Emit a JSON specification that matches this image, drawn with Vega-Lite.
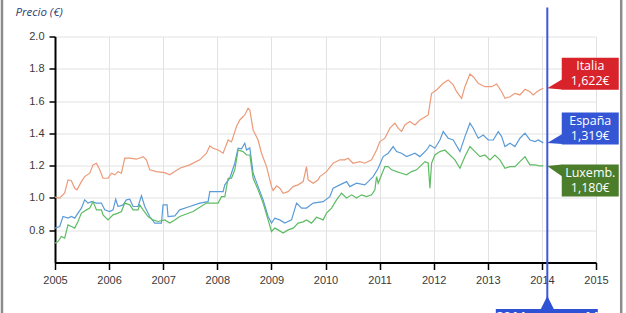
{
  "$schema": "https://vega.github.io/schema/vega-lite/v6.json",
  "width": 541,
  "height": 226,
  "autosize": "none",
  "padding": {"left": 55, "top": 36.5, "right": 30, "bottom": 50.5},
  "background": "white",
  "config": {
    "view": {"stroke": null},
    "axis": {
      "labelFont": "Liberation Sans",
      "labelFontSize": 11,
      "labelColor": "#3a3a3a",
      "labelOverlap": false,
      "labelFlush": false,
      "gridColor": "#e2e2e2",
      "gridWidth": 1,
      "domainColor": "#000000",
      "domainWidth": 2,
      "tickColor": "#000000",
      "tickWidth": 1.5,
      "tickSize": 6,
      "labelPadding": 5
    }
  },
  "resolve": {"axis": {"x": "independent", "y": "independent"}},
  "datasets": {
    "etiquetas": [
      {"serie": "Italia", "texto": "Italia\n1,622€"},
      {"serie": "España", "texto": "España\n1,319€"},
      {"serie": "Luxemb.", "texto": "Luxemb.\n1,180€"}
    ],
    "marca": [{"t": 2014.1, "texto": "2014 semana 14"}],
    "precios": [
      {"serie":"Italia","t":2005.000,"v":1.005},{"serie":"Italia","t":2005.087,"v":0.999},{"serie":"Italia","t":2005.179,"v":1.031},{"serie":"Italia","t":2005.240,"v":1.112},{"serie":"Italia","t":2005.303,"v":1.107},{"serie":"Italia","t":2005.364,"v":1.060},{"serie":"Italia","t":2005.407,"v":1.050},{"serie":"Italia","t":2005.488,"v":1.101},{"serie":"Italia","t":2005.549,"v":1.132},{"serie":"Italia","t":2005.642,"v":1.153},{"serie":"Italia","t":2005.703,"v":1.205},{"serie":"Italia","t":2005.766,"v":1.215},{"serie":"Italia","t":2005.827,"v":1.174},{"serie":"Italia","t":2005.888,"v":1.122},{"serie":"Italia","t":2005.980,"v":1.122},{"serie":"Italia","t":2006.043,"v":1.153},{"serie":"Italia","t":2006.104,"v":1.143},{"serie":"Italia","t":2006.165,"v":1.163},{"serie":"Italia","t":2006.228,"v":1.153},{"serie":"Italia","t":2006.289,"v":1.246},{"serie":"Italia","t":2006.382,"v":1.246},{"serie":"Italia","t":2006.505,"v":1.240},{"serie":"Italia","t":2006.628,"v":1.256},{"serie":"Italia","t":2006.690,"v":1.236},{"serie":"Italia","t":2006.751,"v":1.174},{"serie":"Italia","t":2006.875,"v":1.163},{"serie":"Italia","t":2007.028,"v":1.157},{"serie":"Italia","t":2007.121,"v":1.143},{"serie":"Italia","t":2007.214,"v":1.163},{"serie":"Italia","t":2007.306,"v":1.184},{"serie":"Italia","t":2007.491,"v":1.205},{"serie":"Italia","t":2007.676,"v":1.236},{"serie":"Italia","t":2007.800,"v":1.277},{"serie":"Italia","t":2007.861,"v":1.322},{"serie":"Italia","t":2007.922,"v":1.308},{"serie":"Italia","t":2008.015,"v":1.297},{"serie":"Italia","t":2008.107,"v":1.277},{"serie":"Italia","t":2008.200,"v":1.359},{"serie":"Italia","t":2008.262,"v":1.347},{"serie":"Italia","t":2008.355,"v":1.442},{"serie":"Italia","t":2008.416,"v":1.483},{"serie":"Italia","t":2008.508,"v":1.514},{"serie":"Italia","t":2008.569,"v":1.555},{"serie":"Italia","t":2008.601,"v":1.545},{"serie":"Italia","t":2008.662,"v":1.421},{"serie":"Italia","t":2008.754,"v":1.359},{"serie":"Italia","t":2008.817,"v":1.277},{"serie":"Italia","t":2008.910,"v":1.194},{"serie":"Italia","t":2009.002,"v":1.070},{"serie":"Italia","t":2009.032,"v":1.046},{"serie":"Italia","t":2009.095,"v":1.075},{"serie":"Italia","t":2009.156,"v":1.060},{"serie":"Italia","t":2009.217,"v":1.029},{"serie":"Italia","t":2009.309,"v":1.039},{"serie":"Italia","t":2009.402,"v":1.070},{"serie":"Italia","t":2009.494,"v":1.081},{"serie":"Italia","t":2009.587,"v":1.101},{"serie":"Italia","t":2009.649,"v":1.194},{"serie":"Italia","t":2009.679,"v":1.112},{"serie":"Italia","t":2009.772,"v":1.091},{"serie":"Italia","t":2009.864,"v":1.112},{"serie":"Italia","t":2009.895,"v":1.132},{"serie":"Italia","t":2010.019,"v":1.163},{"serie":"Italia","t":2010.141,"v":1.215},{"serie":"Italia","t":2010.265,"v":1.236},{"serie":"Italia","t":2010.358,"v":1.236},{"serie":"Italia","t":2010.419,"v":1.246},{"serie":"Italia","t":2010.511,"v":1.215},{"serie":"Italia","t":2010.635,"v":1.225},{"serie":"Italia","t":2010.727,"v":1.215},{"serie":"Italia","t":2010.852,"v":1.236},{"serie":"Italia","t":2010.944,"v":1.297},{"serie":"Italia","t":2011.005,"v":1.349},{"serie":"Italia","t":2011.098,"v":1.370},{"serie":"Italia","t":2011.190,"v":1.432},{"serie":"Italia","t":2011.283,"v":1.463},{"serie":"Italia","t":2011.344,"v":1.432},{"serie":"Italia","t":2011.406,"v":1.411},{"serie":"Italia","t":2011.467,"v":1.452},{"serie":"Italia","t":2011.560,"v":1.473},{"serie":"Italia","t":2011.653,"v":1.452},{"serie":"Italia","t":2011.745,"v":1.483},{"serie":"Italia","t":2011.837,"v":1.502},{"serie":"Italia","t":2011.898,"v":1.514},{"serie":"Italia","t":2011.961,"v":1.648},{"serie":"Italia","t":2012.053,"v":1.669},{"serie":"Italia","t":2012.176,"v":1.710},{"serie":"Italia","t":2012.268,"v":1.731},{"serie":"Italia","t":2012.361,"v":1.700},{"serie":"Italia","t":2012.424,"v":1.658},{"serie":"Italia","t":2012.516,"v":1.617},{"serie":"Italia","t":2012.577,"v":1.689},{"serie":"Italia","t":2012.670,"v":1.768},{"serie":"Italia","t":2012.731,"v":1.751},{"serie":"Italia","t":2012.823,"v":1.710},{"serie":"Italia","t":2012.947,"v":1.689},{"serie":"Italia","t":2013.071,"v":1.689},{"serie":"Italia","t":2013.163,"v":1.706},{"serie":"Italia","t":2013.256,"v":1.658},{"serie":"Italia","t":2013.317,"v":1.617},{"serie":"Italia","t":2013.410,"v":1.627},{"serie":"Italia","t":2013.502,"v":1.648},{"serie":"Italia","t":2013.594,"v":1.638},{"serie":"Italia","t":2013.687,"v":1.673},{"serie":"Italia","t":2013.779,"v":1.658},{"serie":"Italia","t":2013.840,"v":1.638},{"serie":"Italia","t":2013.933,"v":1.664},{"serie":"Italia","t":2014.025,"v":1.679},
      {"serie":"España","t":2005.000,"v":0.813},{"serie":"España","t":2005.087,"v":0.823},{"serie":"España","t":2005.148,"v":0.885},{"serie":"España","t":2005.240,"v":0.875},{"serie":"España","t":2005.303,"v":0.885},{"serie":"España","t":2005.364,"v":0.875},{"serie":"España","t":2005.425,"v":0.906},{"serie":"España","t":2005.488,"v":0.937},{"serie":"España","t":2005.549,"v":0.988},{"serie":"España","t":2005.610,"v":0.968},{"serie":"España","t":2005.673,"v":0.977},{"serie":"España","t":2005.766,"v":0.968},{"serie":"España","t":2005.858,"v":0.968},{"serie":"España","t":2005.919,"v":0.926},{"serie":"España","t":2006.012,"v":0.916},{"serie":"España","t":2006.073,"v":0.926},{"serie":"España","t":2006.123,"v":0.992},{"serie":"España","t":2006.165,"v":0.947},{"serie":"España","t":2006.258,"v":0.957},{"serie":"España","t":2006.320,"v":0.988},{"serie":"España","t":2006.382,"v":0.992},{"serie":"España","t":2006.443,"v":0.947},{"serie":"España","t":2006.535,"v":0.947},{"serie":"España","t":2006.598,"v":1.013},{"serie":"España","t":2006.659,"v":0.947},{"serie":"España","t":2006.751,"v":0.885},{"serie":"España","t":2006.844,"v":0.844},{"serie":"España","t":2006.968,"v":0.844},{"serie":"España","t":2006.997,"v":0.957},{"serie":"España","t":2007.071,"v":0.957},{"serie":"España","t":2007.090,"v":0.885},{"serie":"España","t":2007.214,"v":0.889},{"serie":"España","t":2007.306,"v":0.926},{"serie":"España","t":2007.491,"v":0.947},{"serie":"España","t":2007.676,"v":0.968},{"serie":"España","t":2007.830,"v":0.977},{"serie":"España","t":2007.861,"v":1.039},{"serie":"España","t":2008.107,"v":1.039},{"serie":"España","t":2008.139,"v":1.081},{"serie":"España","t":2008.231,"v":1.122},{"serie":"España","t":2008.323,"v":1.215},{"serie":"España","t":2008.384,"v":1.308},{"serie":"España","t":2008.447,"v":1.304},{"serie":"España","t":2008.508,"v":1.339},{"serie":"España","t":2008.540,"v":1.297},{"serie":"España","t":2008.601,"v":1.310},{"serie":"España","t":2008.662,"v":1.153},{"serie":"España","t":2008.754,"v":1.070},{"serie":"España","t":2008.847,"v":0.988},{"serie":"España","t":2008.939,"v":0.885},{"serie":"España","t":2009.002,"v":0.844},{"serie":"España","t":2009.063,"v":0.875},{"serie":"España","t":2009.156,"v":0.864},{"serie":"España","t":2009.248,"v":0.844},{"serie":"España","t":2009.372,"v":0.864},{"serie":"España","t":2009.465,"v":0.968},{"serie":"España","t":2009.557,"v":0.937},{"serie":"España","t":2009.649,"v":0.937},{"serie":"España","t":2009.772,"v":0.968},{"serie":"España","t":2009.957,"v":0.977},{"serie":"España","t":2010.080,"v":1.008},{"serie":"España","t":2010.141,"v":1.060},{"serie":"España","t":2010.265,"v":1.081},{"serie":"España","t":2010.390,"v":1.101},{"serie":"España","t":2010.450,"v":1.070},{"serie":"España","t":2010.574,"v":1.091},{"serie":"España","t":2010.727,"v":1.081},{"serie":"España","t":2010.789,"v":1.101},{"serie":"España","t":2010.881,"v":1.132},{"serie":"España","t":2010.974,"v":1.184},{"serie":"España","t":2011.066,"v":1.256},{"serie":"España","t":2011.159,"v":1.277},{"serie":"España","t":2011.251,"v":1.318},{"serie":"España","t":2011.314,"v":1.287},{"serie":"España","t":2011.406,"v":1.277},{"serie":"España","t":2011.499,"v":1.256},{"serie":"España","t":2011.653,"v":1.277},{"serie":"España","t":2011.745,"v":1.256},{"serie":"España","t":2011.869,"v":1.297},{"serie":"España","t":2011.930,"v":1.328},{"serie":"España","t":2012.022,"v":1.308},{"serie":"España","t":2012.115,"v":1.359},{"serie":"España","t":2012.176,"v":1.411},{"serie":"España","t":2012.268,"v":1.370},{"serie":"España","t":2012.361,"v":1.359},{"serie":"España","t":2012.485,"v":1.287},{"serie":"España","t":2012.577,"v":1.380},{"serie":"España","t":2012.670,"v":1.463},{"serie":"España","t":2012.731,"v":1.432},{"serie":"España","t":2012.823,"v":1.370},{"serie":"España","t":2012.916,"v":1.390},{"serie":"España","t":2013.008,"v":1.359},{"serie":"España","t":2013.101,"v":1.359},{"serie":"España","t":2013.193,"v":1.411},{"serie":"España","t":2013.256,"v":1.380},{"serie":"España","t":2013.317,"v":1.318},{"serie":"España","t":2013.410,"v":1.339},{"serie":"España","t":2013.502,"v":1.318},{"serie":"España","t":2013.594,"v":1.370},{"serie":"España","t":2013.687,"v":1.401},{"serie":"España","t":2013.779,"v":1.359},{"serie":"España","t":2013.872,"v":1.349},{"serie":"España","t":2013.933,"v":1.359},{"serie":"España","t":2014.025,"v":1.341},
      {"serie":"Luxemb.","t":2005.000,"v":0.720},{"serie":"Luxemb.","t":2005.055,"v":0.730},{"serie":"Luxemb.","t":2005.118,"v":0.761},{"serie":"Luxemb.","t":2005.179,"v":0.751},{"serie":"Luxemb.","t":2005.240,"v":0.833},{"serie":"Luxemb.","t":2005.303,"v":0.823},{"serie":"Luxemb.","t":2005.364,"v":0.813},{"serie":"Luxemb.","t":2005.425,"v":0.854},{"serie":"Luxemb.","t":2005.488,"v":0.906},{"serie":"Luxemb.","t":2005.581,"v":0.926},{"serie":"Luxemb.","t":2005.642,"v":0.937},{"serie":"Luxemb.","t":2005.703,"v":0.977},{"serie":"Luxemb.","t":2005.766,"v":0.926},{"serie":"Luxemb.","t":2005.858,"v":0.926},{"serie":"Luxemb.","t":2005.888,"v":0.895},{"serie":"Luxemb.","t":2005.980,"v":0.864},{"serie":"Luxemb.","t":2006.073,"v":0.895},{"serie":"Luxemb.","t":2006.165,"v":0.906},{"serie":"Luxemb.","t":2006.228,"v":0.916},{"serie":"Luxemb.","t":2006.289,"v":0.968},{"serie":"Luxemb.","t":2006.382,"v":0.957},{"serie":"Luxemb.","t":2006.443,"v":0.926},{"serie":"Luxemb.","t":2006.535,"v":0.926},{"serie":"Luxemb.","t":2006.566,"v":0.957},{"serie":"Luxemb.","t":2006.628,"v":0.926},{"serie":"Luxemb.","t":2006.720,"v":0.885},{"serie":"Luxemb.","t":2006.812,"v":0.864},{"serie":"Luxemb.","t":2006.905,"v":0.854},{"serie":"Luxemb.","t":2007.028,"v":0.864},{"serie":"Luxemb.","t":2007.121,"v":0.844},{"serie":"Luxemb.","t":2007.214,"v":0.864},{"serie":"Luxemb.","t":2007.306,"v":0.885},{"serie":"Luxemb.","t":2007.552,"v":0.916},{"serie":"Luxemb.","t":2007.800,"v":0.968},{"serie":"Luxemb.","t":2008.015,"v":0.968},{"serie":"Luxemb.","t":2008.077,"v":1.008},{"serie":"Luxemb.","t":2008.139,"v":1.008},{"serie":"Luxemb.","t":2008.200,"v":1.122},{"serie":"Luxemb.","t":2008.262,"v":1.122},{"serie":"Luxemb.","t":2008.323,"v":1.174},{"serie":"Luxemb.","t":2008.384,"v":1.297},{"serie":"Luxemb.","t":2008.477,"v":1.287},{"serie":"Luxemb.","t":2008.540,"v":1.266},{"serie":"Luxemb.","t":2008.601,"v":1.266},{"serie":"Luxemb.","t":2008.662,"v":1.122},{"serie":"Luxemb.","t":2008.754,"v":1.050},{"serie":"Luxemb.","t":2008.847,"v":0.968},{"serie":"Luxemb.","t":2008.939,"v":0.864},{"serie":"Luxemb.","t":2009.002,"v":0.792},{"serie":"Luxemb.","t":2009.063,"v":0.813},{"serie":"Luxemb.","t":2009.124,"v":0.802},{"serie":"Luxemb.","t":2009.217,"v":0.782},{"serie":"Luxemb.","t":2009.309,"v":0.802},{"serie":"Luxemb.","t":2009.402,"v":0.813},{"serie":"Luxemb.","t":2009.494,"v":0.844},{"serie":"Luxemb.","t":2009.587,"v":0.852},{"serie":"Luxemb.","t":2009.649,"v":0.864},{"serie":"Luxemb.","t":2009.741,"v":0.844},{"serie":"Luxemb.","t":2009.834,"v":0.880},{"serie":"Luxemb.","t":2009.957,"v":0.864},{"serie":"Luxemb.","t":2010.019,"v":0.906},{"serie":"Luxemb.","t":2010.112,"v":0.937},{"serie":"Luxemb.","t":2010.204,"v":0.988},{"serie":"Luxemb.","t":2010.297,"v":1.029},{"serie":"Luxemb.","t":2010.390,"v":0.999},{"serie":"Luxemb.","t":2010.482,"v":1.019},{"serie":"Luxemb.","t":2010.574,"v":0.999},{"serie":"Luxemb.","t":2010.666,"v":1.019},{"serie":"Luxemb.","t":2010.759,"v":1.008},{"serie":"Luxemb.","t":2010.852,"v":1.019},{"serie":"Luxemb.","t":2010.913,"v":1.050},{"serie":"Luxemb.","t":2010.944,"v":1.132},{"serie":"Luxemb.","t":2010.974,"v":1.091},{"serie":"Luxemb.","t":2011.037,"v":1.143},{"serie":"Luxemb.","t":2011.098,"v":1.194},{"serie":"Luxemb.","t":2011.159,"v":1.194},{"serie":"Luxemb.","t":2011.222,"v":1.174},{"serie":"Luxemb.","t":2011.314,"v":1.163},{"serie":"Luxemb.","t":2011.406,"v":1.153},{"serie":"Luxemb.","t":2011.499,"v":1.143},{"serie":"Luxemb.","t":2011.591,"v":1.163},{"serie":"Luxemb.","t":2011.684,"v":1.174},{"serie":"Luxemb.","t":2011.745,"v":1.194},{"serie":"Luxemb.","t":2011.837,"v":1.225},{"serie":"Luxemb.","t":2011.898,"v":1.217},{"serie":"Luxemb.","t":2011.930,"v":1.060},{"serie":"Luxemb.","t":2011.961,"v":1.215},{"serie":"Luxemb.","t":2012.022,"v":1.266},{"serie":"Luxemb.","t":2012.115,"v":1.287},{"serie":"Luxemb.","t":2012.207,"v":1.297},{"serie":"Luxemb.","t":2012.300,"v":1.266},{"serie":"Luxemb.","t":2012.392,"v":1.236},{"serie":"Luxemb.","t":2012.485,"v":1.184},{"serie":"Luxemb.","t":2012.577,"v":1.256},{"serie":"Luxemb.","t":2012.670,"v":1.318},{"serie":"Luxemb.","t":2012.762,"v":1.287},{"serie":"Luxemb.","t":2012.855,"v":1.256},{"serie":"Luxemb.","t":2012.947,"v":1.266},{"serie":"Luxemb.","t":2013.040,"v":1.236},{"serie":"Luxemb.","t":2013.132,"v":1.266},{"serie":"Luxemb.","t":2013.224,"v":1.236},{"serie":"Luxemb.","t":2013.317,"v":1.184},{"serie":"Luxemb.","t":2013.410,"v":1.194},{"serie":"Luxemb.","t":2013.502,"v":1.194},{"serie":"Luxemb.","t":2013.594,"v":1.225},{"serie":"Luxemb.","t":2013.687,"v":1.256},{"serie":"Luxemb.","t":2013.779,"v":1.205},{"serie":"Luxemb.","t":2013.872,"v":1.205},{"serie":"Luxemb.","t":2013.964,"v":1.198},{"serie":"Luxemb.","t":2014.025,"v":1.198}
    ]
  },
  "layer": [
    {
      "data": {"name": "precios"},
      "mark": {"type": "line", "strokeWidth": 1.2},
      "encoding": {
        "x": {
          "field": "t", "type": "quantitative",
          "scale": {"domain": [2005, 2015], "nice": false, "zero": false},
          "axis": {"values": [2005,2006,2007,2008,2009,2010,2011,2012,2013,2014,2015], "format": "d", "title": null, "tickSize": 7, "labelOverlap": false, "labelFlush": false}
        },
        "y": {
          "field": "v", "type": "quantitative",
          "scale": {"domain": [0.6, 2.0], "nice": false, "zero": false},
          "axis": {
            "values": [0.8, 1.0, 1.2, 1.4, 1.6, 1.8, 2.0], "format": ".1f", "labelOverlap": false, "labelFlush": false,
            "title": "Precio (€)", "titleAngle": 0, "titleAlign": "left", "titleBaseline": "middle",
            "titleX": -40, "titleY": -24, "titleFont": "Open Sans", "titleFontStyle": "italic",
            "titleFontWeight": "normal", "titleFontSize": 11.5, "titleColor": "#2c3d6e"
          }
        },
        "color": {
          "field": "serie", "type": "nominal",
          "scale": {"domain": ["Italia", "España", "Luxemb."], "range": ["#ec9a78", "#5b9bd7", "#5dbb63"]},
          "legend": null
        },
        "detail": {"field": "serie"}
      }
    },
    {
      "data": {"values": [{}]},
      "mark": {"type": "rect", "fill": "transparent", "stroke": "#8c8c8c", "strokeWidth": 2.5},
      "encoding": {
        "x": {"datum": 2004.02, "type": "quantitative", "axis": null},
        "x2": {"datum": 2015.466},
        "y": {"datum": 2.4, "type": "quantitative", "axis": null},
        "y2": {"datum": 0.2}
      }
    },
    {
      "data": {"name": "marca"},
      "mark": {"type": "rule", "color": "#3a58d8", "strokeWidth": 2},
      "encoding": {
        "x": {"field": "t", "type": "quantitative", "axis": null},
        "y": {"datum": 2.18, "type": "quantitative", "axis": null},
        "y2": {"datum": 0.32}
      }
    },
    {
      "data": {"name": "marca"},
      "mark": {"type": "point", "filled": true, "shape": "M 0 -1 L 1 1 L -1 1 Z", "size": 196, "color": "#2f52d4", "opacity": 1, "yOffset": 40.5},
      "encoding": {
        "x": {"field": "t", "type": "quantitative", "axis": null},
        "y": {"datum": 0.6, "type": "quantitative", "axis": null}
      }
    },
    {
      "data": {"name": "marca"},
      "mark": {"type": "rect", "color": "#2f52d4", "xOffset": -51.5, "x2Offset": 50.5, "yOffset": 46.5, "y2Offset": 62},
      "encoding": {
        "x": {"field": "t", "type": "quantitative", "axis": null},
        "x2": {"field": "t"},
        "y": {"datum": 0.6, "type": "quantitative", "axis": null},
        "y2": {"datum": 0.6}
      }
    },
    {
      "data": {"name": "marca"},
      "mark": {"type": "text", "color": "white", "font": "Open Sans", "fontWeight": "bold", "fontSize": 13, "baseline": "middle", "align": "center", "yOffset": 54},
      "encoding": {
        "x": {"field": "t", "type": "quantitative", "axis": null},
        "y": {"datum": 0.6, "type": "quantitative", "axis": null},
        "text": {"field": "texto"}
      }
    },
    {
      "data": {"name": "precios"},
      "transform": [
        {"joinaggregate": [{"op": "max", "field": "t", "as": "tmax"}], "groupby": ["serie"]},
        {"filter": "datum.t === datum.tmax"},
        {"lookup": "serie", "from": {"data": {"name": "etiquetas"}, "key": "serie", "fields": ["texto"]}}
      ],
      "layer": [
        {
          "transform": [{"filter": {"field": "serie", "oneOf": ["Italia", "España"]}}],
          "mark": {"type": "rect", "xOffset": 18.5, "x2Offset": 75.5, "yOffset": -30.5, "y2Offset": 1.5},
          "encoding": {
            "x": {"field": "t", "type": "quantitative", "axis": null},
            "x2": {"field": "t"},
            "y": {"field": "v", "type": "quantitative", "axis": null},
            "y2": {"field": "v"},
            "fill": {"field": "serie", "type": "nominal", "scale": {"domain": ["Italia", "España", "Luxemb."], "range": ["#d9232b", "#3456d4", "#4b7d2b"]}, "legend": null}
          }
        },
        {
          "transform": [{"filter": {"field": "serie", "oneOf": ["Luxemb."]}}],
          "mark": {"type": "rect", "xOffset": 18.5, "x2Offset": 75.5, "yOffset": -1.5, "y2Offset": 30.5},
          "encoding": {
            "x": {"field": "t", "type": "quantitative", "axis": null},
            "x2": {"field": "t"},
            "y": {"field": "v", "type": "quantitative", "axis": null},
            "y2": {"field": "v"},
            "fill": {"field": "serie", "type": "nominal", "legend": null}
          }
        },
        {
          "transform": [{"filter": {"field": "serie", "oneOf": ["Italia", "España"]}}],
          "mark": {"type": "point", "filled": true, "opacity": 1, "shape": "M -1 0 L 1 -1.2 L 1 0.15 Z", "size": 225, "xOffset": 11.5, "strokeWidth": 0},
          "encoding": {
            "x": {"field": "t", "type": "quantitative", "axis": null},
            "y": {"field": "v", "type": "quantitative", "axis": null},
            "fill": {"field": "serie", "type": "nominal", "legend": null}
          }
        },
        {
          "transform": [{"filter": {"field": "serie", "oneOf": ["Luxemb."]}}],
          "mark": {"type": "point", "filled": true, "opacity": 1, "shape": "M -1 0 L 1 -0.2 L 1 1.4 Z", "size": 225, "xOffset": 11.5, "strokeWidth": 0},
          "encoding": {
            "x": {"field": "t", "type": "quantitative", "axis": null},
            "y": {"field": "v", "type": "quantitative", "axis": null},
            "fill": {"field": "serie", "type": "nominal", "legend": null}
          }
        },
        {
          "transform": [{"filter": {"field": "serie", "oneOf": ["Italia", "España"]}}],
          "mark": {"type": "text", "color": "white", "font": "Open Sans", "fontSize": 12.5, "lineBreak": "\n", "lineHeight": 15, "align": "center", "baseline": "middle", "xOffset": 47, "yOffset": -22},
          "encoding": {
            "x": {"field": "t", "type": "quantitative", "axis": null},
            "y": {"field": "v", "type": "quantitative", "axis": null},
            "text": {"field": "texto"}
          }
        },
        {
          "transform": [{"filter": {"field": "serie", "oneOf": ["Luxemb."]}}],
          "mark": {"type": "text", "color": "white", "font": "Open Sans", "fontSize": 12.5, "lineBreak": "\n", "lineHeight": 15, "align": "center", "baseline": "middle", "xOffset": 47, "yOffset": 7},
          "encoding": {
            "x": {"field": "t", "type": "quantitative", "axis": null},
            "y": {"field": "v", "type": "quantitative", "axis": null},
            "text": {"field": "texto"}
          }
        }
      ]
    }
  ]
}
